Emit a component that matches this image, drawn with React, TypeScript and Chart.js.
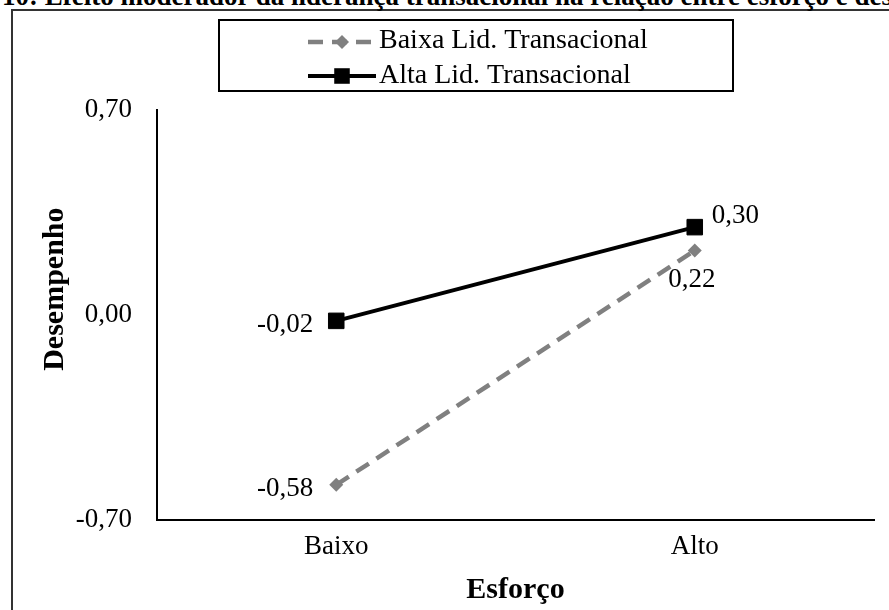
import React, { useEffect, useRef } from 'react';
import { Chart, registerables } from 'chart.js';

Chart.register(...registerables);

// ---- data ----
const categories = ['Baixo', 'Alto'];
const baixaValues = [-0.58, 0.22];
const altaValues = [-0.02, 0.3];
const seriesLabels = ['Baixa Lid. Transacional', 'Alta Lid. Transacional'];
const yTickValues = [-0.7, 0, 0.7];
const figureTitle = '10: Efeito moderador da liderança transacional na relação entre esforço e desempenho';
const xTitle = 'Esforço';
const yTitle = 'Desempenho';

const SERIF = '"Liberation Serif", "Times New Roman", Times, serif';
const fmt = (v: number) => v.toFixed(2).replace('.', ',');

function drawMarker(ctx: CanvasRenderingContext2D, style: string, x: number, y: number, r: number, color: string) {
  ctx.save();
  ctx.setLineDash([]);
  ctx.fillStyle = color;
  ctx.beginPath();
  if (style === 'rect') {
    const h = r * Math.SQRT1_2;
    ctx.rect(x - h, y - h, 2 * h, 2 * h);
  } else {
    ctx.moveTo(x - r, y);
    ctx.lineTo(x, y - r);
    ctx.lineTo(x + r, y);
    ctx.lineTo(x, y + r);
    ctx.closePath();
  }
  ctx.fill();
  ctx.restore();
}

const decorPlugin = {
  id: 'decor',
  afterDatasetsDraw(chart: any) {
    const ctx: CanvasRenderingContext2D = chart.ctx;
    ctx.save();
    ctx.fillStyle = '#000';
    ctx.font = `27px ${SERIF}`;
    ctx.textBaseline = 'middle';
    chart.data.datasets.forEach((ds: any, i: number) => {
      const meta = chart.getDatasetMeta(i);
      meta.data.forEach((pt: any, j: number) => {
        const txt = fmt(ds.data[j]);
        const pos = ds.labelPos[j];
        if (pos === 'left') {
          ctx.textAlign = 'right';
          ctx.fillText(txt, pt.x - 23, pt.y + 4);
        } else if (pos === 'upright') {
          ctx.textAlign = 'left';
          ctx.fillText(txt, pt.x + 17, pt.y - 11);
        } else {
          ctx.textAlign = 'center';
          ctx.fillText(txt, pt.x - 3, pt.y + 29);
        }
      });
    });
    ctx.restore();
  },
  afterDraw(chart: any) {
    const ctx: CanvasRenderingContext2D = chart.ctx;
    const area = chart.chartArea;
    // legend box
    ctx.save();
    ctx.strokeStyle = '#000';
    ctx.lineWidth = 2;
    ctx.strokeRect(219, 20, 514, 71);
    const rowsMid = [42, 76];
    const rowsBase = [48, 83];
    chart.data.datasets.forEach((ds: any, k: number) => {
      const cy = rowsMid[k];
      ctx.save();
      ctx.strokeStyle = ds.borderColor;
      ctx.lineWidth = ds.borderWidth;
      ctx.setLineDash(ds.borderDash || []);
      ctx.beginPath();
      ctx.moveTo(308, cy);
      ctx.lineTo(376, cy);
      ctx.stroke();
      ctx.restore();
      drawMarker(ctx, ds.pointStyle, 342, cy, ds.pointStyle === 'rect' ? 11 : 7, ds.pointBackgroundColor);
      ctx.fillStyle = '#000';
      ctx.font = `28px ${SERIF}`;
      ctx.textAlign = 'left';
      ctx.textBaseline = 'alphabetic';
      ctx.fillText(ds.label, 379, rowsBase[k]);
    });
    // y axis title
    ctx.translate(55, area.top + (area.bottom - area.top) * 0.437);
    ctx.rotate(-Math.PI / 2);
    ctx.font = `bold 30px ${SERIF}`;
    ctx.textAlign = 'center';
    ctx.textBaseline = 'middle';
    ctx.fillStyle = '#000';
    ctx.fillText(yTitle, 0, 0);
    ctx.restore();
  },
};

export default function App() {
  const ref = useRef<HTMLCanvasElement | null>(null);
  useEffect(() => {
    if (!ref.current) return;
    const chart = new Chart(ref.current, {
      type: 'line',
      data: {
        labels: categories,
        datasets: [
          {
            label: seriesLabels[0],
            data: baixaValues,
            borderColor: '#808080',
            backgroundColor: '#808080',
            borderWidth: 4.5,
            borderDash: [15, 9],
            pointStyle: 'rectRot',
            pointRadius: 7,
            pointBorderWidth: 0,
            pointBackgroundColor: '#808080',
            pointBorderColor: '#808080',
            labelPos: ['left', 'below'],
          } as any,
          {
            label: seriesLabels[1],
            data: altaValues,
            borderColor: '#000000',
            backgroundColor: '#000000',
            borderWidth: 4,
            pointStyle: 'rect',
            pointRadius: 11,
            pointBorderWidth: 1,
            pointBackgroundColor: '#000000',
            pointBorderColor: '#000000',
            labelPos: ['left', 'upright'],
          } as any,
        ],
      },
      options: {
        animation: false,
        responsive: false,
        maintainAspectRatio: false,
        layout: { padding: { left: 0, right: 15, top: 110, bottom: 0 } },
        plugins: {
          legend: { display: false },
          tooltip: { enabled: false },
        },
        scales: {
          x: {
            type: 'category',
            offset: true,
            grid: { display: false, drawTicks: false },
            border: { display: true, color: '#000', width: 2 },
            ticks: { color: '#000', font: { family: SERIF, size: 27 }, padding: 11 },
            title: {
              display: true,
              text: xTitle,
              color: '#000',
              font: { family: SERIF, size: 30, weight: 'bold' },
              padding: { top: 4, bottom: 2 },
            },
            afterFit: (s: any) => {
              s.height = 90;
            },
          },
          y: {
            min: -0.7,
            max: 0.7,
            afterBuildTicks: (s: any) => {
              s.ticks = yTickValues.map((v) => ({ value: v }));
            },
            grid: { display: false, drawTicks: false },
            border: { display: true, color: '#000', width: 2 },
            ticks: {
              color: '#000',
              font: { family: SERIF, size: 27 },
              padding: 25,
              callback: (v: any) => fmt(Number(v)),
            },
            afterFit: (s: any) => {
              s.width = 157;
            },
          },
        },
      } as any,
      plugins: [decorPlugin],
    });
    return () => chart.destroy();
  }, []);

  return (
    <div
      style={{
        position: 'absolute',
        left: 0,
        top: 0,
        width: 889,
        height: 610,
        overflow: 'hidden',
        background: '#fff',
      }}
    >
      <div
        style={{
          position: 'absolute',
          left: 11,
          top: 9,
          width: 1000,
          height: 1000,
          border: '2px solid #333',
          boxSizing: 'border-box',
        }}
      />
      <div
        style={{
          position: 'absolute',
          left: 2,
          top: -17,
          whiteSpace: 'nowrap',
          fontFamily: SERIF,
          fontWeight: 'bold',
          fontSize: 27,
          lineHeight: '27px',
          color: '#000',
        }}
      >
        {figureTitle}
      </div>
      <canvas ref={ref} width={889} height={610} style={{ position: 'absolute', left: 0, top: 0 }} />
    </div>
  );
}
